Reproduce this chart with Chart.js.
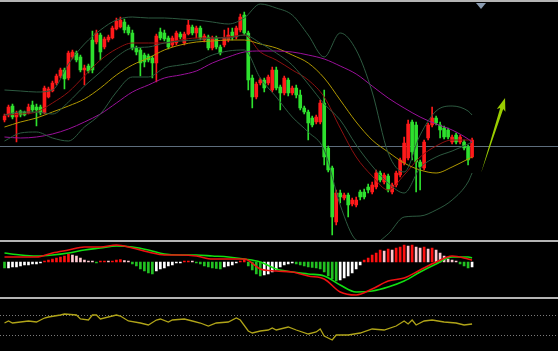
<!DOCTYPE html>
<html>
<head>
<meta charset="utf-8">
<script src="https://cdn.jsdelivr.net/npm/chart.js@4.4.1/dist/chart.umd.min.js"></script>
<style>
  html, body { margin: 0; padding: 0; background: #000; }
  #wrap { position: relative; width: 558px; height: 351px; background: #000; overflow: hidden; }
  canvas { position: absolute; left: 0; }
  #main { top: 0; }
  #macd { top: 242px; }
  #rsi { top: 300px; }
  .sep { position: absolute; left: 0; width: 558px; height: 2px; background: #b4b4b4; }
  #marker { position: absolute; left: 476px; top: 3px; width: 0; height: 0;
            border-left: 5px solid transparent; border-right: 5px solid transparent; border-top: 6px solid #8a9bb0; }
</style>
</head>
<body>
<div id="wrap">
  <canvas id="main" width="558" height="240"></canvas>
  <div class="sep" style="top:0"></div>
  <div class="sep" style="top:240px"></div>
  <canvas id="macd" width="558" height="55"></canvas>
  <div class="sep" style="top:297px"></div>
  <canvas id="rsi" width="558" height="50"></canvas>
  <div id="marker"></div>
</div>
<script>
// 139 bar slots on the time axis, candles fill the first 118
const slots = 139;
const labels = Array.from({ length: slots }, (_, i) => String(i));

// candles (red = up, green = down)
const open  = [130,135,144,133,139,138,137,145,143,143,137,153,159,167,174,180,172,193,197,193,
               180,184,210,208,215,203,210,212,221,223,228,223,217,202,200,195,194,192,187,218,
               217,212,205,207,216,207,216,223,217,222,210,213,202,212,203,205,210,218,213,220,
               235,217,172,153,167,170,167,160,180,163,157,170,157,162,155,142,138,132,128,128,
               147,102,82,28,57,52,55,46,45,58,58,63,58,63,77,68,74,58,65,75,
               87,92,128,125,88,82,112,125,132,125,122,120,108,115,108,108,103,93];
const close = [134,143,133,137,135,135,143,140,140,137,162,161,167,174,180,171,197,198,190,180,
               182,179,180,217,198,211,213,222,229,230,220,217,202,198,187,188,190,187,214,212,
               211,203,212,217,213,216,225,217,222,212,214,202,212,203,197,212,215,213,222,233,
               217,170,153,166,170,162,173,180,162,157,172,157,162,155,142,138,127,125,133,147,
               93,80,33,57,53,55,45,50,50,53,53,60,65,77,70,75,60,65,77,90,
               107,126,98,88,83,108,125,132,127,120,113,113,113,108,113,102,90,110];
const high  = [136,145,146,139,140,139,146,149,146,145,164,163,169,176,182,182,199,200,199,195,
               185,186,219,220,217,213,215,224,232,233,231,225,220,204,202,197,196,194,216,222,
               220,214,214,219,218,218,230,225,224,224,216,215,214,214,205,220,222,222,224,236,
               238,219,175,168,172,172,175,183,183,165,174,172,164,165,160,144,140,134,135,150,
               160,104,84,60,60,57,57,52,53,60,61,66,68,80,79,77,76,67,79,92,
               113,130,130,128,90,110,127,143,134,128,124,122,115,117,115,110,105,112];
const low   = [128,133,131,108,133,134,136,138,124,135,136,152,158,165,172,161,170,191,188,178,
               165,177,177,206,190,201,208,211,220,222,217,215,200,195,174,183,188,172,168,210,
               209,201,203,205,211,205,215,215,212,210,208,200,200,201,195,203,208,210,211,218,
               215,160,142,151,165,158,165,158,160,140,155,154,155,152,140,136,110,123,126,126,
               85,78,15,25,47,50,33,44,43,50,51,57,56,61,68,66,58,56,63,73,
               85,90,90,58,60,80,110,123,125,112,111,111,106,106,106,100,85,92];

// indicator lines, read at every 4th candle
const lineIdx  = [0,4,8,12,16,20,24,28,32,36,40,44,48,52,56,60,64,68,72,76,80,84,88,92,96,100,104,108,112,116,117];
const bbUpper  = [160,159,158,160,186,206,220,230,233,232,232,231,230,228,226,232,246,242,235,215,193,217,200,158,97,78,115,139,144,139,135];
const bbMiddle = [135,138,138,136,148,164,178,193,202,203,207,209,210,212,212,215,207,197,185,166,146,130,105,84,67,57,82,93,99,106,108];
const bbLower  = [109,117,118,112,109,123,136,158,173,173,182,185,188,195,199,200,172,153,133,118,100,45,10,6,16,33,34,40,50,68,77];
const maRed    = [135,136,138,147,158,174,190,201,207,207,207,210,212,212,213,215,198,190,180,170,153,122,93,74,60,75,93,104,110,110,110];
const maYellow = [123,128,132,138,144,151,162,175,185,192,200,205,208,209,210,210,206,202,195,187,172,150,128,110,98,87,80,77,83,91,93];
const maPurple = [113,112,113,116,121,128,136,147,158,165,172,175,179,187,193,198,199,199,198,195,191,184,176,164,152,142,133,126,120,111,108];

const levelPrice = 104;
const arrowFrom = [119.25, 77];
const arrowTo = [125.25, 152];

// MACD panel
const macdHist = [-6,-6,-5,-5,-4,-3,-3,-2,-2,-1,1,2,3,4,5,6,8,7,6,4,
                  2,1,0.5,-0.5,0.5,1,0.5,1,2,2.5,1.5,0.5,-2,-4,-7,-9,-11,-12,-9,-7,
                  -6,-4,-3,-1,-0.5,0.5,1,0.5,-1,-2,-4,-5,-6,-6.5,-7,-5,-4,-3,-1,1,
                  2,-4,-8,-12,-14,-13,-12,-10,-8,-5,-3,-2,-1,-2,-3,-4,-5,-5.5,-6,-7,
                  -10,-14,-17,-19,-18,-16,-14,-11,-7,-3,2,4,7,9,12,11,13,12,14,15,
                  17,16,17,15,14,15,13,14,12,9,6,3,2,1,-2,-4,-6,-5];
const macdLine   = [5,5,5,9,12,15,15,17,14,10,7,7,6,3,3,3,-7,-9,-10,-14,-17,-30,-33,-27,-19,-16,-8,0,6,3,2];
const signalLine = [9,7,6,7,9,12,14,16,15,12,8,7,7,6,5,3,0,-7,-10,-12,-14,-23,-30,-29,-25,-19,-10,-2,5,5,4];

// RSI panel
const rsiIdx  = [0,1,2,6,8,10,11,14,15,18,19,21,22,23,24,28,29,31,34,36,38,39,41,42,45,47,49,51,53,56,
                 58,59,61,62,64,66,67,68,71,73,76,78,79,80,82,83,86,89,92,95,98,100,101,102,103,105,107,110,113,115,117];
const rsiVals = [54,58,54,58,56,64,66,70,72,70,62,60,70,70,62,70,68,58,54,50,60,62,56,60,62,58,54,48,54,56,
                 64,60,38,34,38,40,44,40,46,40,32,36,42,28,20,30,30,34,42,40,48,58,52,60,50,58,60,56,54,50,52];
const rsiLevels = [70, 30];

const upColor = '#ff1a1a';
const downColor = '#2ee02e';
const candleColor = ctx => close[ctx.dataIndex] >= open[ctx.dataIndex] ? upColor : downColor;

const pts = (idx, vals) => idx.map((k, j) => ({ x: labels[k], y: vals[j] }));

const lineDs = (vals, color, width) => ({
  type: 'line',
  data: pts(lineIdx, vals),
  borderColor: color,
  borderWidth: width || 1,
  pointRadius: 0,
  fill: false,
  cubicInterpolationMode: 'monotone',
  order: 1
});

const xScale = { type: 'category', offset: true, display: false, grid: { display: false } };
const baseOptions = {
  responsive: false,
  animation: false,
  events: [],
  layout: { padding: { left: 2.5, right: 0, top: 0, bottom: 0 } },
  plugins: { legend: { display: false }, tooltip: { enabled: false } }
};

const mainExtras = {
  id: 'mainExtras',
  beforeDatasetsDraw(chart) {
    const { ctx, scales: { y } } = chart;
    const py = Math.round(y.getPixelForValue(levelPrice)) + 0.5;
    ctx.save();
    ctx.strokeStyle = '#5d6d7c';
    ctx.lineWidth = 1;
    ctx.beginPath();
    ctx.moveTo(0, py);
    ctx.lineTo(chart.width, py);
    ctx.stroke();
    ctx.restore();
  },
  afterDatasetsDraw(chart) {
    const { ctx, scales: { x, y } } = chart;
    const x0 = x.getPixelForValue(arrowFrom[0]), y0 = y.getPixelForValue(arrowFrom[1]);
    const x1 = x.getPixelForValue(arrowTo[0]), y1 = y.getPixelForValue(arrowTo[1]);
    const len = Math.hypot(x1 - x0, y1 - y0);
    const ux = (x1 - x0) / len, uy = (y1 - y0) / len;
    const nx = -uy, ny = ux;
    const headLen = 11, headW = 4.5, shaftW = 1.6;
    const bx = x1 - ux * headLen, by = y1 - uy * headLen;
    ctx.save();
    ctx.fillStyle = '#9acd00';
    ctx.beginPath();
    ctx.moveTo(x0, y0);
    ctx.lineTo(bx + nx * shaftW, by + ny * shaftW);
    ctx.lineTo(bx + nx * headW - ux * 2, by + ny * headW - uy * 2);
    ctx.lineTo(x1, y1);
    ctx.lineTo(bx - nx * headW - ux * 2, by - ny * headW - uy * 2);
    ctx.lineTo(bx - nx * shaftW, by - ny * shaftW);
    ctx.closePath();
    ctx.fill();
    ctx.restore();
  }
};

new Chart(document.getElementById('main'), {
  type: 'bar',
  data: {
    labels: labels,
    datasets: [
      lineDs(bbUpper, '#2d5a40'),
      lineDs(bbMiddle, '#2d5a40'),
      lineDs(bbLower, '#2d5a40'),
      lineDs(maPurple, '#9a109a'),
      lineDs(maYellow, '#b09800'),
      lineDs(maRed, '#8e1010'),
      {
        label: 'wick',
        data: low.map((l, i) => [l, high[i]]),
        backgroundColor: candleColor,
        barThickness: 1,
        grouped: false,
        order: 3
      },
      {
        label: 'body',
        data: open.map((o, i) => [o, close[i]]),
        backgroundColor: candleColor,
        barThickness: 3,
        minBarLength: 1,
        grouped: false,
        order: 2
      }
    ]
  },
  options: Object.assign({}, baseOptions, {
    scales: { x: xScale, y: { display: false, min: 10, max: 250 } }
  }),
  plugins: [mainExtras]
});

new Chart(document.getElementById('macd'), {
  type: 'bar',
  data: {
    labels: labels,
    datasets: [
      {
        label: 'hist',
        data: macdHist,
        backgroundColor: ctx => {
          const i = ctx.dataIndex, v = macdHist[i], p = i > 0 ? macdHist[i - 1] : 0;
          if (v >= 0) return v >= p ? '#ff1010' : '#ffc8d0';
          return v < p ? '#22c022' : '#ffffff';
        },
        barThickness: 2,
        minBarLength: 1,
        order: 2
      },
      {
        type: 'line', data: pts(lineIdx, macdLine), borderColor: '#ee1111', borderWidth: 1.6,
        pointRadius: 0, cubicInterpolationMode: 'monotone', order: 1
      },
      {
        type: 'line', data: pts(lineIdx, signalLine), borderColor: '#11dd11', borderWidth: 1.6,
        pointRadius: 0, cubicInterpolationMode: 'monotone', order: 1
      }
    ]
  },
  options: Object.assign({}, baseOptions, {
    scales: { x: xScale, y: { display: false, min: -35, max: 20 } }
  })
});

const rsiGuides = {
  id: 'rsiGuides',
  beforeDatasetsDraw(chart) {
    const { ctx, scales: { y } } = chart;
    ctx.save();
    ctx.strokeStyle = '#7a7a7a';
    ctx.lineWidth = 1;
    ctx.setLineDash([1, 2]);
    rsiLevels.forEach(lv => {
      const py = Math.round(y.getPixelForValue(lv)) + 0.5;
      ctx.beginPath();
      ctx.moveTo(0, py);
      ctx.lineTo(chart.width, py);
      ctx.stroke();
    });
    ctx.restore();
  }
};

new Chart(document.getElementById('rsi'), {
  type: 'line',
  data: {
    labels: labels,
    datasets: [{
      data: pts(rsiIdx, rsiVals),
      borderColor: '#b0a418',
      borderWidth: 1.3,
      pointRadius: 0,
      tension: 0
    }]
  },
  options: Object.assign({}, baseOptions, {
    scales: { x: xScale, y: { display: false, min: 0, max: 100 } }
  }),
  plugins: [rsiGuides]
});
</script>
</body>
</html>
